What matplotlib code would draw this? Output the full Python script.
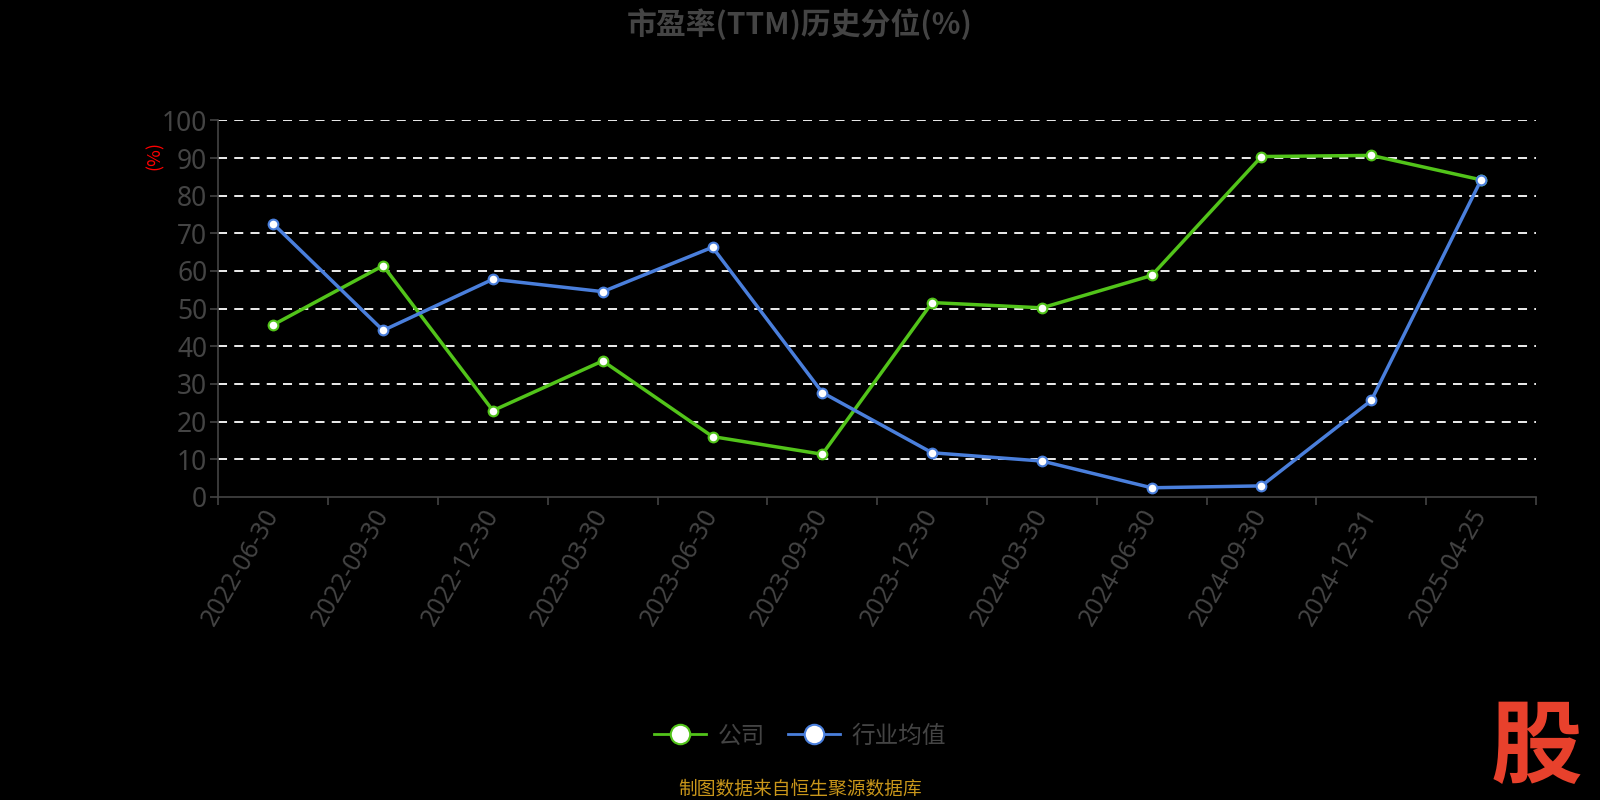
import matplotlib
matplotlib.use('Agg')
import matplotlib.pyplot as plt
from matplotlib.lines import Line2D

plt.rcParams['font.family'] = ['Noto Sans CJK SC', 'DejaVu Sans']

# 数据
fechas = ['2022-06-30', '2022-09-30', '2022-12-30', '2023-03-30', '2023-06-30', '2023-09-30',
          '2023-12-30', '2024-03-30', '2024-06-30', '2024-09-30', '2024-12-31', '2025-04-25']
gongsi = [45.7, 61.4, 22.9, 36.1, 16.0, 11.3, 51.6, 50.2, 58.8, 90.4, 90.7, 84.2]
hangye = [72.5, 44.2, 57.8, 54.5, 66.3, 27.7, 11.7, 9.5, 2.4, 2.9, 25.6, 84.2]
y_ticks = [0, 10, 20, 30, 40, 50, 60, 70, 80, 90, 100]

verde = '#52c41a'
azul = '#4a7fdc'
gris = '#444444'
latin = ['Noto Sans', 'DejaVu Sans']

fig = plt.figure(figsize=(16, 8), dpi=100, facecolor='black')
ax = fig.add_axes([0.1365, 0.379, 0.8235, 0.4705], facecolor='black')

x = list(range(len(fechas)))
ax.plot(x, gongsi, color=verde, lw=2.5, marker='o', ms=7, mfc='white', mec=verde, mew=1.5, zorder=4)
ax.plot(x, hangye, color=azul, lw=2.5, marker='o', ms=7, mfc='white', mec=azul, mew=1.5, zorder=4)

ax.set_xlim(-0.5, len(fechas) - 0.5)
ax.set_ylim(0, 100)
ax.set_yticks(y_ticks)
ax.set_yticklabels([str(v) for v in y_ticks], color=gris, fontsize=19, family=latin)
for v in y_ticks[1:]:
    ax.axhline(v, color='white', lw=1.3, ls=(0, (5, 4)), zorder=1)

# ticks del eje x en los limites de categoria
ax.set_xticks([i - 0.5 for i in range(len(fechas) + 1)], minor=False)
ax.set_xticklabels([])
ax.set_xticks(x, minor=True)
ax.set_xticklabels(fechas, minor=True, rotation=60, ha='right', va='center',
                   rotation_mode='anchor', color=gris, fontsize=18, family=latin)
ax.tick_params(axis='x', which='major', length=6, color=gris, width=1.2)
ax.tick_params(axis='x', which='minor', length=0, pad=10)
ax.tick_params(axis='y', length=6, color=gris, width=1.2, pad=2)

for s in ['top', 'right']:
    ax.spines[s].set_visible(False)
ax.spines['left'].set_color(gris)
ax.spines['bottom'].set_color(gris)
ax.spines['left'].set_linewidth(1.2)
ax.spines['bottom'].set_linewidth(1.2)

fig.text(0.097, 0.806, '(%)', color='red', fontsize=13, rotation=90, ha='center', va='center')
fig.text(0.5, 0.97, '市盈率(TTM)历史分位(%)', color=gris, fontsize=21.5, fontweight='bold',
         ha='center', va='center')

handles = [
    Line2D([], [], color=verde, lw=2, marker='o', ms=14, mfc='white', mec=verde, mew=1.5),
    Line2D([], [], color=azul, lw=2, marker='o', ms=14, mfc='white', mec=azul, mew=1.5),
]
leg = fig.legend(handles, ['公司', '行业均值'], loc='center', bbox_to_anchor=(0.5, 0.08), ncol=2,
                 frameon=False, fontsize=17, labelcolor=gris, handlelength=2.2,
                 columnspacing=1.0, handletextpad=0.5)

fig.text(0.5, 0.014, '制图数据来自恒生聚源数据库', color='#c9961a', fontsize=13.5, ha='center', va='center')
fig.text(0.96, 0.064, '股', color='#e8412c', fontsize=66, fontweight='heavy', ha='center', va='center')

fig.savefig('out.png', dpi=100, facecolor='black')
